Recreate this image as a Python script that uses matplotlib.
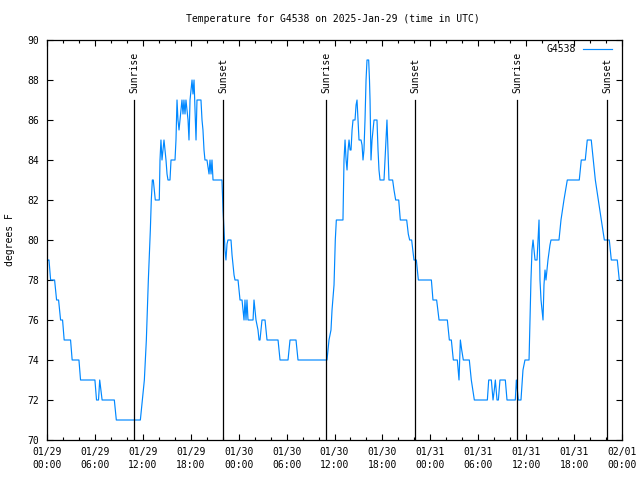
import matplotlib
matplotlib.use("Agg")
import matplotlib.pyplot as plt

# hours since 2025-01-29 00:00 UTC and temperature (deg F)
hours = [0.15, 0.25, 0.45, 0.95, 1.2, 1.45, 1.7, 1.95, 2.15, 2.95, 3.15, 4.0, 4.2, 6.0, 6.2, 6.45,
         6.6, 6.9, 8.43, 8.68, 11.69, 11.94, 12.19, 12.44, 12.69, 12.94, 13.06, 13.19, 13.31,
         13.44, 13.56, 14.06, 14.15, 14.27, 14.4, 14.53, 14.65, 14.78, 14.9, 15.03, 15.15, 15.4,
         15.53, 16.03, 16.15, 16.28, 16.4, 16.53, 16.65, 16.78, 16.9, 17.03, 17.15, 17.28, 17.4,
         17.53, 17.66, 17.78, 17.91, 18.03, 18.16, 18.28, 18.41, 18.53, 18.66, 18.78, 19.28,
         19.41, 19.53, 19.66, 19.78, 20.03, 20.29, 20.41, 20.54, 20.66, 20.79, 21.91, 22.04,
         22.29, 22.41, 22.54, 22.66, 23.04, 23.17, 23.42, 23.54, 23.92, 24.17, 24.42, 24.67,
         24.79, 24.92, 25.04, 25.17, 25.8, 25.92, 26.05, 26.17, 26.42, 26.55, 26.67, 26.92,
         27.3, 27.55, 28.93, 29.18, 30.18, 30.43, 31.18, 31.43, 35.06, 35.31, 35.56, 35.69,
         35.94, 36.1, 36.23, 37.06, 37.19, 37.32, 37.45, 37.57, 37.7, 37.82, 37.95, 38.07,
         38.2, 38.32, 38.57, 38.7, 38.82, 38.95, 39.07, 39.32, 39.45, 39.57, 39.69, 39.82,
         39.95, 40.07, 40.28, 40.38, 40.45, 40.57, 40.7, 40.82, 40.95, 41.32, 41.45, 41.57,
         41.7, 42.2, 42.32, 42.45, 42.57, 42.7, 42.82, 43.28, 43.45, 43.66, 44.04, 44.24,
         45.04, 45.24, 45.41, 45.66, 45.95, 46.25, 46.5, 48.13, 48.33, 48.79, 49.09, 50.13,
         50.38, 50.63, 50.88, 51.38, 51.59, 51.76, 51.93, 52.13, 52.88, 53.13, 53.51, 55.14,
         55.31, 55.64, 55.85, 56.01, 56.14, 56.35, 56.52, 56.72, 57.39, 57.6, 58.64, 58.77,
         58.9, 59.02, 59.35, 59.48, 59.6, 59.85, 60.36, 60.48, 60.6, 60.73, 60.86, 60.98,
         61.11, 61.36, 61.48, 61.61, 61.73, 61.86, 61.98, 62.11, 62.23, 62.36, 62.48, 62.61,
         62.73, 62.98, 63.11, 64.11, 64.36, 64.73, 65.15, 66.65, 66.9, 67.4, 67.65, 68.15,
         68.4, 68.66, 69.03, 69.41, 69.79, 70.41, 70.66, 71.41, 71.66, 71.75]
temp_f = [79, 79, 78, 78, 77, 77, 76, 76, 75, 75, 74, 74, 73, 73, 72, 72,
          73, 72, 72, 71, 71, 72, 73, 75, 78, 80.5, 82, 83, 83,
          82.5, 82, 82, 84, 85, 84, 84.5, 85, 84.5, 84, 83.3, 83, 83,
          84, 84, 85, 87, 86, 85.5, 86, 86.5, 87, 86.3, 87, 86.3, 87,
          86.5, 86, 85, 87, 87.5, 88, 87.3, 88, 86.5, 85, 87, 87,
          86, 85.5, 84.5, 84, 84, 83.3, 84, 83.3, 84, 83, 83, 81.5,
          79.5, 79, 79.8, 80, 80, 79.25, 78.25, 78, 78, 77, 77, 76,
          77, 76, 77, 76, 76, 77, 76.5, 76, 75.5, 75, 75, 76,
          76, 75, 75, 74, 74, 75, 75, 74, 74, 75, 75.5, 76.5,
          77.75, 80, 81, 81, 84, 85, 84, 83.5, 84.5, 85, 84.5, 84.5,
          85.5, 86, 86, 86.75, 87, 86, 85, 85, 84.75, 84, 84.5, 86,
          88, 89, 89, 88, 87, 84, 85, 85.5, 86, 86, 84.5, 83.5,
          83, 83, 84, 85, 86, 84.5, 83, 83, 82.5, 82, 82, 81,
          81, 80.3, 80, 80, 79, 79, 78, 78, 77, 77, 76, 76,
          75, 75, 74, 74, 73, 75, 74.5, 74, 74, 73, 72, 72,
          73, 73, 72, 72.5, 73, 72, 72, 73, 73, 72, 72, 73,
          72.5, 72, 72, 72.75, 73.5, 74, 74, 76, 78, 79.5, 80, 79.5,
          79, 79, 80, 81, 78, 77, 76.5, 76, 77.75, 78.5, 78, 78.5,
          79, 79.75, 80, 80, 81, 82, 83, 83, 84, 84, 85, 85,
          84, 83, 82, 81, 80, 80, 79, 79, 78, 78]

sunrise_hours = [10.93, 34.94, 58.9]
sunset_hours = [22.08, 46.13, 70.16]

xtick_hours = [0, 6, 12, 18, 24, 30, 36, 42, 48, 54, 60, 66, 72]
xtick_labels = ["01/29\n00:00", "01/29\n06:00", "01/29\n12:00", "01/29\n18:00",
                "01/30\n00:00", "01/30\n06:00", "01/30\n12:00", "01/30\n18:00",
                "01/31\n00:00", "01/31\n06:00", "01/31\n12:00", "01/31\n18:00",
                "02/01\n00:00"]
ytick_values = [70, 72, 74, 76, 78, 80, 82, 84, 86, 88, 90]

plt.rcParams['font.family'] = 'DejaVu Sans Mono'
plt.rcParams['font.size'] = 7

fig = plt.figure(figsize=(6.4, 4.8), dpi=100)
ax = fig.add_axes([47 / 640, 40 / 480, 575 / 640, 400 / 480])

ax.plot(hours, temp_f, color='#0088ff', lw=0.85, label='G4538')

# sunrise / sunset markers
for h in sunrise_hours:
    ax.plot([h, h], [70, 87], color='black', lw=0.9)
    ax.text(h, 87.35, 'Sunrise', rotation=90, ha='center', va='bottom')
for h in sunset_hours:
    ax.plot([h, h], [70, 87], color='black', lw=0.9)
    ax.text(h, 87.35, 'Sunset', rotation=90, ha='center', va='bottom')

ax.set_xlim(0, 72)
ax.set_ylim(70, 90)
ax.set_xticks(xtick_hours)
ax.set_xticklabels(xtick_labels)
ax.set_xticks(range(0, 73, 2), minor=True)
ax.set_yticks(ytick_values)
for lab in ax.get_xticklabels():
    lab.set_linespacing(1.35)

ax.tick_params(which='both', direction='in', top=True, right=True, width=0.8)
ax.tick_params(which='major', length=4.5)
ax.tick_params(which='minor', length=2.2)
ax.tick_params(axis='x', pad=5)
ax.tick_params(axis='y', pad=6)
for sp in ax.spines.values():
    sp.set_linewidth(0.9)

ax.legend(loc='center right', bbox_to_anchor=(565 / 575, 391 / 400), frameon=False,
          markerfirst=False, handlelength=3.0, handletextpad=0.7, borderpad=0,
          borderaxespad=0)

fig.text(333 / 640, 1 - 19 / 480, 'Temperature for G4538 on 2025-Jan-29 (time in UTC)',
         ha='center', va='center')
fig.text(10 / 640, 0.5, 'degrees F', rotation=90, ha='center', va='center')

plt.savefig('out.png', dpi=100)
